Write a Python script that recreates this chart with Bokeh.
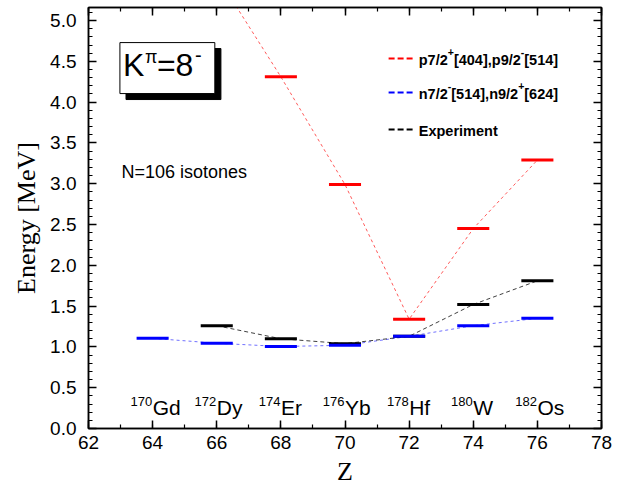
from bokeh.plotting import figure
from bokeh.models import (Range1d, LinearAxis, SingleIntervalTicker, Label,
                          BoxAnnotation, ColumnDataSource, NumeralTickFormatter,
                          CustomJSTickFormatter)
from bokeh.embed import file_html
from bokeh.resources import INLINE

# ---------------- data ----------------
Z = [64, 66, 68, 70, 72, 74, 76]
mass_numbers = ["170", "172", "174", "176", "178", "180", "182"]
elements = ["Gd", "Dy", "Er", "Yb", "Hf", "W", "Os"]

z_proton = [66, 68, 70, 72, 74, 76]
e_proton = [5.55, 4.31, 2.99, 1.34, 2.45, 3.29]

z_neutron = [64, 66, 68, 70, 72, 74, 76]
e_neutron = [1.105, 1.045, 1.005, 1.02, 1.13, 1.26, 1.35]

z_exp = [66, 68, 70, 72, 74, 76]
e_exp = [1.26, 1.10, 1.04, 1.13, 1.52, 1.81]

legend_rows = [
    ("red", [("p7/2", False), ("+", True), ("[404],p9/2", False), ("-", True), ("[514]", False)]),
    ("blue", [("n7/2", False), ("-", True), ("[514],n9/2", False), ("+", True), ("[624]", False)]),
    ("black", [("Experiment", False)]),
]

SANS = "Liberation Sans"
SERIF = "Liberation Serif"

# approximate Arial bold advance widths (em/1000) for placing superscripts
BOLD_W = {c: 556 for c in "0123456789"}
BOLD_W.update({',': 278, '/': 278, '[': 333, ']': 333, '+': 584, '-': 333,
               'p': 611, 'n': 611, 'E': 667, 'x': 556, 'e': 556, 'r': 389,
               'i': 278, 'm': 889, 't': 333})


def text_width(txt, size):
    return sum(BOLD_W.get(c, 556) for c in txt) / 1000.0 * size


p = figure(frame_width=513, frame_height=421,
           x_range=Range1d(62, 78), y_range=Range1d(0, 5.16),
           output_backend="svg", toolbar_location=None,
           min_border_left=88, min_border_right=21,
           min_border_top=7, min_border_bottom=58)
p.grid.visible = False
p.outline_line_color = "black"
p.outline_line_width = 1.5
p.background_fill_color = "white"
p.border_fill_color = "white"


def style_axis(ax, show_labels):
    ax.axis_line_width = 1.5
    ax.axis_line_color = "black"
    ax.major_tick_in = 8
    ax.major_tick_out = 0
    ax.minor_tick_in = 4
    ax.minor_tick_out = 0
    ax.major_tick_line_width = 1.5
    ax.minor_tick_line_width = 1.2
    ax.major_tick_line_color = "black"
    ax.minor_tick_line_color = "black"
    if show_labels:
        ax.major_label_text_font = SANS
        ax.major_label_text_font_size = "19px"
        ax.major_label_text_color = "black"
        ax.axis_label_text_font = SERIF
        ax.axis_label_text_font_size = "26px"
        ax.axis_label_text_font_style = "normal"
        ax.axis_label_text_color = "black"
    else:
        ax.formatter = CustomJSTickFormatter(code="return ''")
        ax.major_label_standoff = 0


p.xaxis.ticker = SingleIntervalTicker(interval=2, num_minor_ticks=2)
p.yaxis.ticker = SingleIntervalTicker(interval=0.5, num_minor_ticks=5)
p.xaxis.formatter = NumeralTickFormatter(format="0")
p.yaxis.formatter = NumeralTickFormatter(format="0.0")
p.xaxis.axis_label = "Z"
p.yaxis.axis_label = "Energy [MeV]"
for ax in p.xaxis + p.yaxis:
    style_axis(ax, True)
p.xaxis.major_label_standoff = 7
p.yaxis.major_label_standoff = 12
p.xaxis.axis_label_standoff = 5
p.yaxis.axis_label_standoff = 6

rax = LinearAxis(ticker=SingleIntervalTicker(interval=0.5, num_minor_ticks=5))
style_axis(rax, False)
p.add_layout(rax, "right")
tax = LinearAxis(ticker=SingleIntervalTicker(interval=2, num_minor_ticks=2))
style_axis(tax, False)
p.add_layout(tax, "above")

# connecting dashed lines (center to center)
p.line(z_proton, e_proton, line_color="#ff5a5a", line_width=1, line_dash="3 3")
p.line(z_neutron, e_neutron, line_color="#7070ff", line_width=1, line_dash="3 3")
p.line(z_exp, e_exp, line_color="#404040", line_width=1, line_dash="4 3")


def level_bars(zs, es, color):
    src = ColumnDataSource(dict(x0=[z - 0.5 for z in zs], x1=[z + 0.5 for z in zs], y=es))
    p.segment(x0="x0", y0="y", x1="x1", y1="y", source=src,
              line_color=color, line_width=3)


level_bars(z_proton, e_proton, "#ff0000")
level_bars(z_exp, e_exp, "black")
level_bars(z_neutron, e_neutron, "#0000ff")


def lab(x, y, text, size, dx=0, dy=0, align="left", bold=False):
    p.add_layout(Label(x=x, y=y, x_offset=dx, y_offset=dy, text=text,
                       text_align=align, text_baseline="middle",
                       text_font=SANS, text_font_size=f"{size:.1f}px",
                       text_font_style="bold" if bold else "normal",
                       text_color="black", level="overlay"))


# isotope labels: superscript mass number right-aligned at Z, element left-aligned
for z, a, el in zip(Z, mass_numbers, elements):
    lab(z, 0.26, el, 21)
    lab(z, 0.26, a, 13, dx=-0.5, dy=6, align="right")

# K^pi = 8^- box with shadow
p.add_layout(BoxAnnotation(left=63.17, right=66.13, top=4.657, bottom=4.032,
                           fill_color="black", fill_alpha=1.0, line_color="black",
                           line_alpha=1.0, level="overlay"))
p.add_layout(BoxAnnotation(left=62.98, right=65.94, top=4.73, bottom=4.105,
                           fill_color="white", fill_alpha=1.0, line_color="black",
                           line_width=1, line_alpha=1.0, level="overlay"))
lab(62.98, 4.46, "K", 32, dx=3)
lab(62.98, 4.46, "π", 18, dx=25, dy=8)
lab(62.98, 4.46, "=8", 32, dx=37)
lab(62.98, 4.46, "-", 20, dx=75, dy=10)

# N=106 isotones
lab(63.03, 3.14, "N=106 isotones", 18)

# manual legend
row_y = [4.534, 4.118, 3.664]
for (color, pieces), yy in zip(legend_rows, row_y):
    p.segment(x0=[71.36], y0=[yy], x1=[72.11], y1=[yy], line_color=color,
              line_width=2, line_dash="6 3")
    off = 0.0
    for txt, sup in pieces:
        s = 10.5 if sup else 14.5
        lab(72.30, yy, txt, s, dx=off, dy=(7 if sup else -1), bold=True)
        off += text_width(txt, s)

open("out.html", "w").write(file_html(p, INLINE))
